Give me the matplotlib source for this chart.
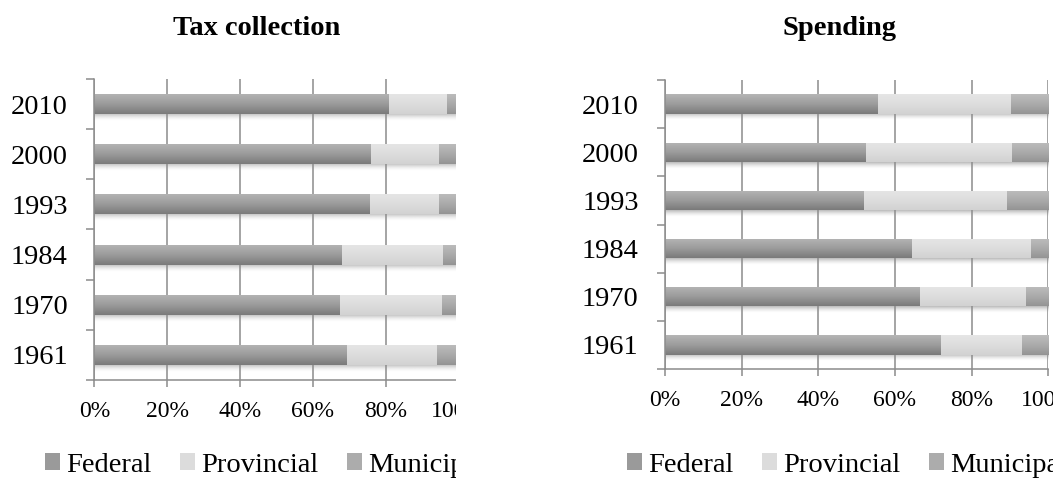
import numpy as np
import matplotlib.pyplot as plt
from matplotlib.patches import Patch, Rectangle
from matplotlib.colors import to_rgb

years = ['1961', '1970', '1984', '1993', '2000', '2010']
series = ['Federal', 'Provincial', 'Municipal']

tax_federal = [69.4, 67.5, 68.0, 75.7, 76.0, 80.9]
tax_provincial = [24.7, 28.0, 27.7, 18.9, 18.6, 15.9]
tax_municipal = [5.9, 4.5, 4.3, 5.4, 5.4, 3.2]

spend_federal = [72.0, 66.5, 64.4, 51.9, 52.4, 55.6]
spend_provincial = [21.1, 27.7, 31.1, 37.3, 38.1, 34.7]
spend_municipal = [6.9, 5.8, 4.5, 10.8, 9.5, 9.7]

# top / middle / bottom tones of each bar gradient
grad_colors = {
    'Federal': ['#b5b5b5', '#9c9c9c', '#7a7a7a'],
    'Provincial': ['#e6e6e6', '#dddddd', '#d2d2d2'],
    'Municipal': ['#bdbdbd', '#ababab', '#949494'],
}
legend_colors = {'Federal': '#9a9a9a', 'Provincial': '#dcdcdc', 'Municipal': '#acacac'}

plt.rcParams['font.family'] = ['Liberation Serif', 'DejaVu Serif']

W, H = 1053, 480
fig = plt.figure(figsize=(W / 100, H / 100), dpi=100)


def gradient(stops, n=64):
    cols = np.array([to_rgb(c) for c in stops])
    t = np.linspace(0, 1, n)
    pos = np.linspace(0, 1, len(stops))
    img = np.stack([np.interp(t, pos, cols[::-1, k]) for k in range(3)], axis=1)
    return img[:, None, :]   # row 0 = bottom


def shadow_img(n=32):
    img = np.zeros((n, 1, 4))
    img[..., :3] = 0.4
    img[:, 0, 3] = 0.45 * np.linspace(0.0, 1.0, n) ** 1.6
    return img


def draw_chart(rect, title_x, title, values, legend_x):
    ax = fig.add_axes([rect[0] / W, 1 - rect[3] / H, (rect[2] - rect[0]) / W,
                       (rect[3] - rect[1]) / H])
    y = np.arange(len(years))
    h = 0.4
    left = np.zeros(len(years))
    for name, vals in zip(series, values):
        frac = np.array(vals) / 100
        bars = ax.barh(y, frac, height=h, left=left, color=legend_colors[name],
                       zorder=2, linewidth=0)
        for b in bars:
            x0, y0 = b.get_x(), b.get_y()
            im = ax.imshow(gradient(grad_colors[name]), origin='lower', aspect='auto',
                           extent=(x0, x0 + b.get_width(), y0, y0 + b.get_height()),
                           zorder=2.1, interpolation='bilinear')
            im.set_clip_path(b)
        left = left + frac
    # soft shadow under each row
    sh = 0.14
    shadows = ax.barh(y - h / 2 - sh / 2, left, height=sh, color='none', zorder=0.3)
    for b in shadows:
        x0, y0 = b.get_x(), b.get_y()
        im = ax.imshow(shadow_img(), origin='lower', aspect='auto',
                       extent=(x0, x0 + b.get_width(), y0, y0 + b.get_height()),
                       zorder=0.3, interpolation='bilinear')
        im.set_clip_path(b)

    ax.set_xlim(0, 1)
    ax.set_ylim(-0.5, len(years) - 0.5)
    ax.set_xticks(np.linspace(0, 1, 6))
    ax.set_xticklabels(['0%', '20%', '40%', '60%', '80%', '100%'], fontsize=17)
    ax.set_yticks(y)
    ax.set_yticklabels(years, fontsize=20.5)
    ax.set_yticks(np.arange(-0.5, len(years)), minor=True)
    ax.tick_params(axis='y', which='major', length=0, pad=19)
    ax.tick_params(axis='y', which='minor', length=6, width=1.1, color='#8c8c8c')
    ax.tick_params(axis='x', length=5, width=1.1, color='#8c8c8c', pad=10)
    ax.grid(axis='x', color='#8c8c8c', linewidth=1.1, zorder=0.5)
    ax.set_axisbelow(True)
    for s in ['top', 'right']:
        ax.spines[s].set_visible(False)
    for s in ['left', 'bottom']:
        ax.spines[s].set_color('#8c8c8c')
        ax.spines[s].set_linewidth(1.1)

    fig.text(title_x / W, 1 - 35 / H, title, ha='center', va='baseline',
             fontsize=20.5, fontweight='bold')

    handles = [Patch(facecolor=legend_colors[n], edgecolor='none') for n in series]
    fig.legend(handles, series, loc='center left', bbox_to_anchor=(legend_x / W, 15 / H),
               ncol=3, frameon=False, fontsize=20.5, handlelength=0.53, handleheight=0.5,
               handletextpad=0.22, columnspacing=1.0, borderpad=0, borderaxespad=0)


draw_chart((94.3, 79, 458.6, 380), 257, 'Tax collection',
           [tax_federal, tax_provincial, tax_municipal], 45)
draw_chart((665, 80, 1048.3, 369), 840, 'Spending',
           [spend_federal, spend_provincial, spend_municipal], 627)

# the left chart is cut off on its right side
fig.add_artist(Rectangle((456 / W, 0), (578 - 456) / W, 1, transform=fig.transFigure,
                         facecolor='white', edgecolor='none', zorder=10))

fig.savefig('out.png', dpi=100)
